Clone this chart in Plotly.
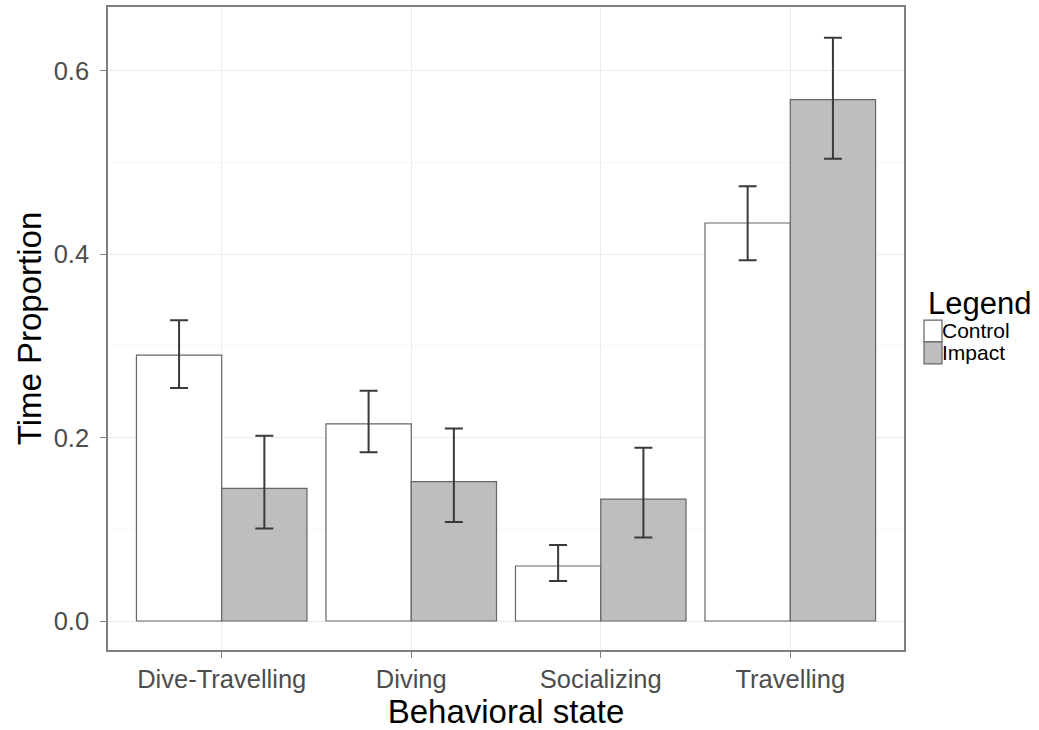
import plotly.graph_objects as go

categories = ["Dive-Travelling", "Diving", "Socializing", "Travelling"]
control = [0.290, 0.215, 0.060, 0.434]
control_hi = [0.328, 0.251, 0.083, 0.474]
control_lo = [0.254, 0.184, 0.0435, 0.3935]
impact = [0.1446, 0.152, 0.133, 0.5685]
impact_hi = [0.202, 0.210, 0.189, 0.636]
impact_lo = [0.101, 0.108, 0.091, 0.504]
y_ticks = [0.0, 0.2, 0.4, 0.6]
y_tick_labels = ["0.0", "0.2", "0.4", "0.6"]
series_names = ["Control", "Impact"]
series_fills = ["white", "#bebebe"]

def plus(v, hi):
    return [h - x for x, h in zip(v, hi)]

def minus(v, lo):
    return [x - l for x, l in zip(v, lo)]

FONT = "Liberation Sans, Arial, sans-serif"
OUTLINE = "#666666"

fig = go.Figure()
fig.add_trace(go.Bar(
    x=categories, y=control, name=series_names[0], showlegend=False,
    marker=dict(color=series_fills[0], line=dict(color=OUTLINE, width=1.2)),
    error_y=dict(type="data", symmetric=False, array=plus(control, control_hi),
                 arrayminus=minus(control, control_lo), color="#3a3a3a",
                 thickness=2, width=9),
))
fig.add_trace(go.Bar(
    x=categories, y=impact, name=series_names[1], showlegend=False,
    marker=dict(color=series_fills[1], line=dict(color=OUTLINE, width=1.2)),
    error_y=dict(type="data", symmetric=False, array=plus(impact, impact_hi),
                 arrayminus=minus(impact, impact_lo), color="#3a3a3a",
                 thickness=2, width=9),
))

# Manual legend (ggplot style, keys touching the labels)
def px(x):
    return (x - 108) / 796

def py(y):
    return (650 - y) / 645

shapes = []
annotations = [dict(
    xref="paper", yref="paper", x=px(926), y=py(302),
    xanchor="left", yanchor="middle", showarrow=False,
    text="Legend", font=dict(size=31, color="black", family=FONT),
)]
key_tops = [319, 341]
key_h = 22
for name, fill, top in zip(series_names, series_fills, key_tops):
    shapes.append(dict(
        type="rect", xref="paper", yref="paper",
        x0=px(924), x1=px(942), y0=py(top), y1=py(top + key_h),
        fillcolor=fill, line=dict(color=OUTLINE, width=1.2),
    ))
    annotations.append(dict(
        xref="paper", yref="paper", x=px(942), y=py(top + key_h / 2),
        xanchor="left", yanchor="middle", showarrow=False, xshift=-2,
        text=name, font=dict(size=21, color="black", family=FONT),
    ))

fig.update_layout(
    width=1039, height=730,
    margin=dict(l=108, r=135, t=5, b=80),
    barmode="group", bargap=0.1, bargroupgap=0,
    plot_bgcolor="white", paper_bgcolor="white",
    font=dict(family=FONT, color="black"),
    showlegend=False,
    shapes=shapes, annotations=annotations,
    xaxis=dict(
        range=[-0.6, 3.6],
        title=dict(text="Behavioral state", font=dict(size=33, color="black"), standoff=4),
        tickfont=dict(size=25.5, color="#4d4d4d"),
        showgrid=True, gridcolor="#ebebeb", gridwidth=1,
        ticks="outside", ticklen=6, tickcolor="#7f7f7f",
        showline=True, linecolor="#7f7f7f", linewidth=1.5, mirror=True,
        zeroline=False,
    ),
    yaxis=dict(
        range=[-0.0316, 0.6695],
        tickvals=y_ticks, ticktext=y_tick_labels,
        title=dict(text="Time Proportion", font=dict(size=33, color="black"), standoff=2),
        tickfont=dict(size=25.5, color="#4d4d4d"),
        ticklabelstandoff=6,
        showgrid=True, gridcolor="#ebebeb", gridwidth=1,
        minor=dict(dtick=0.1, showgrid=True, gridcolor="#f5f5f5", gridwidth=1, ticks=""),
        ticks="outside", ticklen=6, tickcolor="#7f7f7f",
        showline=True, linecolor="#7f7f7f", linewidth=1.5, mirror=True,
        zeroline=False,
    ),
)

fig.write_html("out.html")
